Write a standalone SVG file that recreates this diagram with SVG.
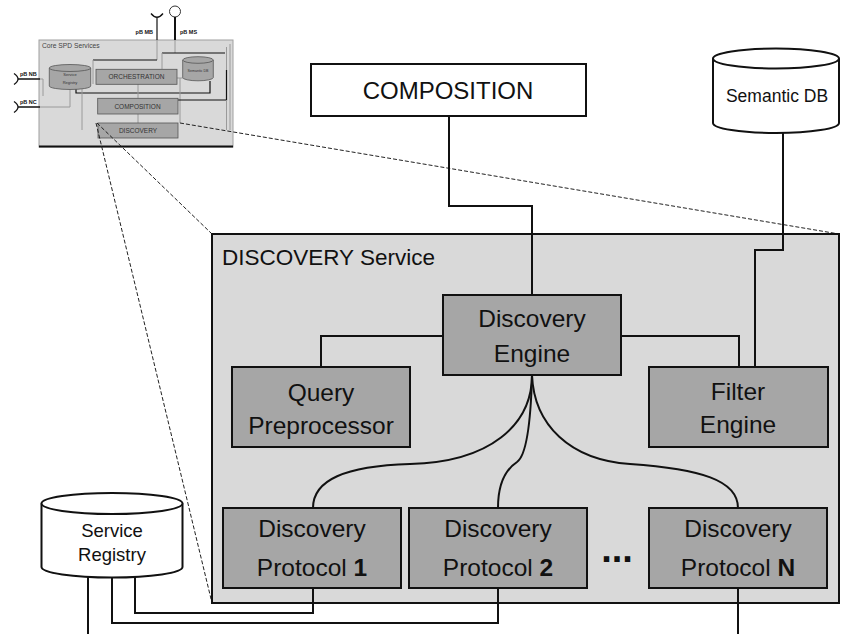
<svg xmlns="http://www.w3.org/2000/svg" width="844" height="634" viewBox="0 0 844 634">
<style>
text{font-family:"Liberation Sans",Arial,sans-serif;fill:#111}
.node{fill:#a6a6a6;stroke:#111;stroke-width:2}
.db{fill:#fff;stroke:#111;stroke-width:2}
.lbl{font-size:24.5px;text-anchor:middle}
.conn{fill:none;stroke:#111;stroke-width:2}
.dash{fill:none;stroke:#222;stroke-width:1;stroke-dasharray:4 2}
.ig{fill:none;stroke:#9a9a9a;stroke-width:1}
.ib{fill:none;stroke:#111;stroke-width:1.2}
.inode{fill:#a6a6a6;stroke:#555;stroke-width:0.8}
.it{font-size:6.5px;text-anchor:middle;fill:#333}
.ip{font-size:5.5px;font-weight:bold;fill:#111}
</style>
<rect width="844" height="634" fill="#fff"/>

<g id="inset">
  <rect x="39" y="40" width="194" height="107" fill="#d9d9d9" stroke="#a0a0a0" stroke-width="1"/>
  <line x1="39" y1="146.5" x2="233" y2="146.5" stroke="#111" stroke-width="2"/>
  <text x="42" y="48" style="font-size:6.7px;fill:#444">Core SPD Services</text>
  <path class="ib" d="M157,18 V40"/>
  <path class="ig" d="M157,40 V60"/>
  <path class="ib" d="M157,60 H93"/>
  <path class="ig" d="M93,60 V84"/>
  <path d="M151,13.5 Q157,21 163,13.5" fill="none" stroke="#111" stroke-width="1.3"/>
  <circle cx="175" cy="11.5" r="5.5" fill="#fff" stroke="#333" stroke-width="1"/>
  <path d="M175,17 V40" fill="none" stroke="#111" stroke-width="2"/>
  <path class="ig" d="M175,40 V53"/>
  <path class="ib" d="M162,53 H225"/>
  <path class="ig" d="M162,53 V69"/>
  <path d="M14,73.5 Q22,79 14,84.5" fill="none" stroke="#111" stroke-width="1.3"/>
  <path d="M18,79 H40" fill="none" stroke="#111" stroke-width="1.5"/>
  <path d="M14,101.5 Q22,107 14,112.5" fill="none" stroke="#111" stroke-width="1.3"/>
  <path d="M18,107 H40" fill="none" stroke="#111" stroke-width="1.5"/>
  <text class="ip" x="20" y="76">pB NB</text>
  <text class="ip" x="20" y="104">pB NC</text>
  <text class="ip" x="153" y="34" text-anchor="end">pB MB</text>
  <text class="ip" x="180" y="34">pB MS</text>
  <path class="ig" d="M40,79 H43 V96"/>
  <path class="ig" d="M40,107 H70 V89"/>
  <path class="ib" d="M76,89 V93 H210 V81"/>
  <path class="ig" d="M82,89 V130"/>
  <path class="ig" d="M138,84 V98 M138,114 V123"/>
  <path class="ig" d="M177,78 H183 M180,78 V123"/>
  <path class="ib" d="M178,100 H226.5 V70"/>
  <path class="ig" d="M226.5,70 V47 M226.5,100 V130 M230,44 V130"/>
  <g id="inset-registry">
    <path class="inode" d="M49.3,68 V86 A20.7,3.5 0 0 0 90.7,86 V68"/>
    <ellipse class="inode" cx="70" cy="68" rx="20.7" ry="3.5"/>
    <text x="70" y="76" style="font-size:4px;text-anchor:middle;fill:#333">Service</text>
    <text x="70" y="84" style="font-size:4px;text-anchor:middle;fill:#333">Registry</text>
  </g>
  <g id="inset-orchestration">
    <rect class="inode" x="96" y="69.3" width="81" height="15"/>
    <text class="it" x="136.5" y="79.3">ORCHESTRATION</text>
  </g>
  <g id="inset-semdb">
    <path class="inode" d="M182.7,60 V77.5 A15.3,3.3 0 0 0 213.3,77.5 V60"/>
    <ellipse class="inode" cx="198" cy="60" rx="15.3" ry="3.3"/>
    <text x="198" y="72" style="font-size:3.6px;text-anchor:middle;fill:#333">Semantic DB</text>
  </g>
  <g id="inset-composition">
    <rect class="inode" x="97.7" y="98.3" width="80.3" height="15.7"/>
    <text class="it" x="137.5" y="108.7">COMPOSITION</text>
  </g>
  <g id="inset-discovery">
    <rect class="inode" x="98" y="123" width="80" height="15"/>
    <text class="it" x="138" y="133.3">DISCOVERY</text>
  </g>
</g>

<g id="zoom-lines">
  <line class="dash" x1="97" y1="123" x2="212" y2="234"/>
  <line class="dash" x1="96" y1="123" x2="212" y2="603"/>
  <line class="dash" x1="180" y1="123" x2="839" y2="234"/>
</g>

<g id="discovery-service">
  <rect x="212" y="234" width="627" height="369" fill="#d9d9d9" stroke="#111" stroke-width="2"/>
  <text x="222" y="265" style="font-size:22.5px">DISCOVERY Service</text>
</g>

<g id="composition">
  <rect x="311" y="64" width="275" height="52" fill="#fff" stroke="#111" stroke-width="2"/>
  <text x="448" y="99" style="font-size:24px;text-anchor:middle">COMPOSITION</text>
</g>

<g id="semantic-db">
  <path class="db" d="M713,58.5 V123 A63,10 0 0 0 839,123 V58.5"/>
  <ellipse class="db" cx="776" cy="58.5" rx="63" ry="10"/>
  <text x="777" y="101.5" style="font-size:17.5px;text-anchor:middle">Semantic DB</text>
</g>

<g id="service-registry">
  <path class="db" d="M41.5,503.5 V567 A70.5,10.5 0 0 0 182.5,567 V503.5"/>
  <ellipse class="db" cx="112" cy="503.5" rx="70.5" ry="10.5"/>
  <text x="112" y="537" style="font-size:18.5px;text-anchor:middle">Service</text>
  <text x="112" y="561" style="font-size:18.5px;text-anchor:middle">Registry</text>
</g>

<g id="connectors">
  <path class="conn" d="M449,116 V206 H532 V295"/>
  <path class="conn" d="M783,133 V250 H755 V367"/>
  <path class="conn" d="M321,367 V336 H443"/>
  <path class="conn" d="M621,336 H739 V367"/>
  <path class="conn" d="M532,375 C532,425 490,462 410,464 C345,466 313,480 313,508"/>
  <path class="conn" d="M532,375 C531,415 527,455 517,462 C505,470 498,485 498,508"/>
  <path class="conn" d="M532,375 C534,425 570,460 630,464 C700,469 738,480 738,508"/>
  <path class="conn" d="M88,577 V634"/>
  <path class="conn" d="M112,577 V623 H498 V588"/>
  <path class="conn" d="M135,577 V613 H313 V588"/>
  <path class="conn" d="M738,588 V634"/>
</g>

<g id="discovery-engine">
  <rect class="node" x="443" y="295" width="178" height="80"/>
  <text class="lbl" x="532" y="327">Discovery</text>
  <text class="lbl" x="532" y="362">Engine</text>
</g>
<g id="query-preprocessor">
  <rect class="node" x="232" y="367" width="178" height="80"/>
  <text class="lbl" x="321" y="401">Query</text>
  <text class="lbl" x="321" y="434">Preprocessor</text>
</g>
<g id="filter-engine">
  <rect class="node" x="649" y="367" width="179" height="80"/>
  <text class="lbl" x="738" y="400">Filter</text>
  <text class="lbl" x="738" y="433">Engine</text>
</g>
<g id="protocol-1">
  <rect class="node" x="223" y="508" width="178" height="80"/>
  <text class="lbl" x="312" y="537">Discovery</text>
  <text class="lbl" x="312" y="576">Protocol <tspan font-weight="bold">1</tspan></text>
</g>
<g id="protocol-2">
  <rect class="node" x="409" y="508" width="178" height="80"/>
  <text class="lbl" x="498" y="537">Discovery</text>
  <text class="lbl" x="498" y="576">Protocol <tspan font-weight="bold">2</tspan></text>
</g>
<text x="617" y="562" style="font-size:38px;font-weight:bold;text-anchor:middle">...</text>
<g id="protocol-n">
  <rect class="node" x="649" y="508" width="178" height="80"/>
  <text class="lbl" x="738" y="537">Discovery</text>
  <text class="lbl" x="738" y="576">Protocol <tspan font-weight="bold">N</tspan></text>
</g>
</svg>
